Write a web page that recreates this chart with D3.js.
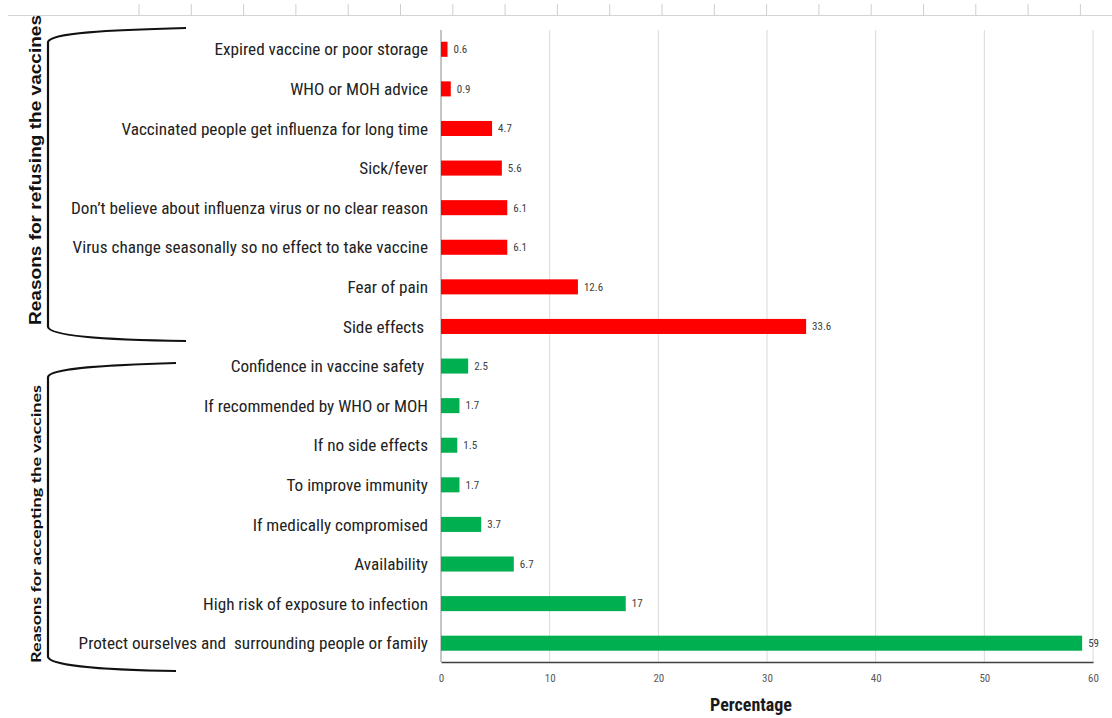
<!DOCTYPE html>
<html>
<head>
<meta charset="utf-8">
<script src="https://cdn.jsdelivr.net/npm/d3@7/dist/d3.min.js"></script>
<style>
  html, body { margin: 0; padding: 0; background: #fff; }
  svg { display: block; }
</style>
</head>
<body>
<svg id="chart" width="1112" height="718"></svg>
<script>
// ---- data ----
const refusingCategories = [
  "Expired vaccine or poor storage",
  "WHO or MOH advice",
  "Vaccinated people get influenza for long time",
  "Sick/fever",
  "Don\u2019t believe about influenza virus or no clear reason",
  "Virus change seasonally so no effect to take vaccine",
  "Fear of pain",
  "Side effects "
];
const refusingValues = [0.6, 0.9, 4.7, 5.6, 6.1, 6.1, 12.6, 33.6];

const acceptingCategories = [
  "Confidence in vaccine safety ",
  "If recommended by WHO or MOH",
  "If no side effects",
  "To improve immunity",
  "If medically compromised",
  "Availability",
  "High risk of exposure to infection",
  "Protect ourselves and  surrounding people or family"
];
const acceptingValues = [2.5, 1.7, 1.5, 1.7, 3.7, 6.7, 17, 59];

const xTicks = [0, 10, 20, 30, 40, 50, 60];
const groupTitles = ["Reasons for refusing the vaccines", "Reasons for accepting the vaccines"];
const xAxisTitle = "Percentage";

// ---- build rows ----
const rows = [];
refusingCategories.forEach((c, i) => rows.push({cat: c, val: refusingValues[i], group: 0}));
acceptingCategories.forEach((c, i) => rows.push({cat: c, val: acceptingValues[i], group: 1}));

const colors = ["#FF0000", "#00B050"];
const narrow = "'Liberation Sans Narrow', 'Arial Narrow', 'Roboto Condensed', sans-serif";

const svg = d3.select("#chart");

const x = d3.scaleLinear().domain([0, 60]).range([441, 1093]);
const y = d3.scaleBand().domain(rows.map(d => d.cat)).range([29.5, 663]).paddingInner(0.62).paddingOuter(0.31);

// decorative cropped top ruler
const topRuler = svg.append("g");
topRuler.append("line").attr("x1", 8).attr("x2", 1112).attr("y1", 15.5).attr("y2", 15.5)
  .attr("stroke", "#d4d4d4").attr("stroke-width", 1.2);
d3.range(19).forEach(k => {
  const tx = 139 + k * 52.3;
  topRuler.append("line").attr("x1", tx).attr("x2", tx).attr("y1", 4).attr("y2", 15.5)
    .attr("stroke", "#cfcfcf").attr("stroke-width", 1);
});

// gridlines
svg.append("g").selectAll("line").data(xTicks.filter(t => t > 0)).join("line")
  .attr("x1", d => x(d)).attr("x2", d => x(d))
  .attr("y1", 30).attr("y2", 662)
  .attr("stroke", "#d9d9d9").attr("stroke-width", 1);

// left axis line
svg.append("line").attr("x1", x(0)).attr("x2", x(0)).attr("y1", 30).attr("y2", 662)
  .attr("stroke", "#8c8c8c").attr("stroke-width", 1);

// bars
svg.append("g").selectAll("rect").data(rows).join("rect")
  .attr("x", x(0))
  .attr("y", d => y(d.cat))
  .attr("width", d => x(d.val) - x(0))
  .attr("height", y.bandwidth())
  .attr("fill", d => colors[d.group]);

// value labels
svg.append("g").selectAll("text").data(rows).join("text")
  .attr("x", d => x(d.val) + 6)
  .attr("y", d => y(d.cat) + y.bandwidth() / 2)
  .attr("dy", "0.35em")
  .attr("font-family", narrow)
  .attr("font-size", 11)
  .attr("fill", "#404040")
  .text(d => d.val);

// category labels
svg.append("g").selectAll("text").data(rows).join("text")
  .attr("x", 428)
  .attr("y", d => y(d.cat) + y.bandwidth() / 2)
  .attr("dy", "0.36em")
  .attr("text-anchor", "end")
  .attr("font-family", narrow)
  .attr("font-size", 17.2)
  .attr("fill", "#222")
  .style("white-space", "pre")
  .text(d => d.cat);

// x axis
const xAxis = d3.axisBottom(x).tickValues(xTicks).tickSize(0).tickPadding(12);
const gx = svg.append("g").attr("transform", "translate(0,662)").call(xAxis);
gx.select(".domain").attr("stroke", "#404040").attr("stroke-width", 1.5);
gx.selectAll("text").attr("font-family", narrow).attr("font-size", 11).attr("fill", "#595959");

svg.append("text")
  .attr("x", (x(0) + x(60)) / 2 - 16)
  .attr("y", 711)
  .attr("text-anchor", "middle")
  .attr("font-family", narrow)
  .attr("font-weight", "bold")
  .attr("font-size", 18)
  .attr("fill", "#1a1a1a")
  .text(xAxisTitle);

// braces
function brace(yTop, yBot, xEnd) {
  const xv = 48;
  return `M${xEnd},${yTop} C${xv + 60},${yTop + 2} ${xv + 2},${yTop + 5} ${xv},${yTop + 14}` +
         ` L${xv},${yBot - 14} C${xv + 2},${yBot - 5} ${xv + 60},${yBot - 1} ${xEnd},${yBot}`;
}
svg.append("path")
  .attr("d", brace(28, 341, 186))
  .attr("fill", "none").attr("stroke", "#111").attr("stroke-width", 2.2);
svg.append("path")
  .attr("d", brace(363, 671, 176))
  .attr("fill", "none").attr("stroke", "#111").attr("stroke-width", 2.2);

// group titles (vertical)
svg.append("text")
  .attr("transform", "translate(41,170) rotate(-90)")
  .attr("text-anchor", "middle")
  .attr("font-family", "'Liberation Sans', Arial, sans-serif")
  .attr("font-weight", "bold")
  .attr("font-size", 16)
  .attr("textLength", 310)
  .attr("lengthAdjust", "spacingAndGlyphs")
  .attr("fill", "#111")
  .text(groupTitles[0]);

svg.append("text")
  .attr("transform", "translate(41,524) rotate(-90)")
  .attr("text-anchor", "middle")
  .attr("font-family", "'Lato', 'Noto Sans', sans-serif")
  .attr("font-weight", "bold")
  .attr("font-size", 13.5)
  .attr("textLength", 278)
  .attr("lengthAdjust", "spacingAndGlyphs")
  .attr("fill", "#111")
  .text(groupTitles[1]);
</script>
</body>
</html>
